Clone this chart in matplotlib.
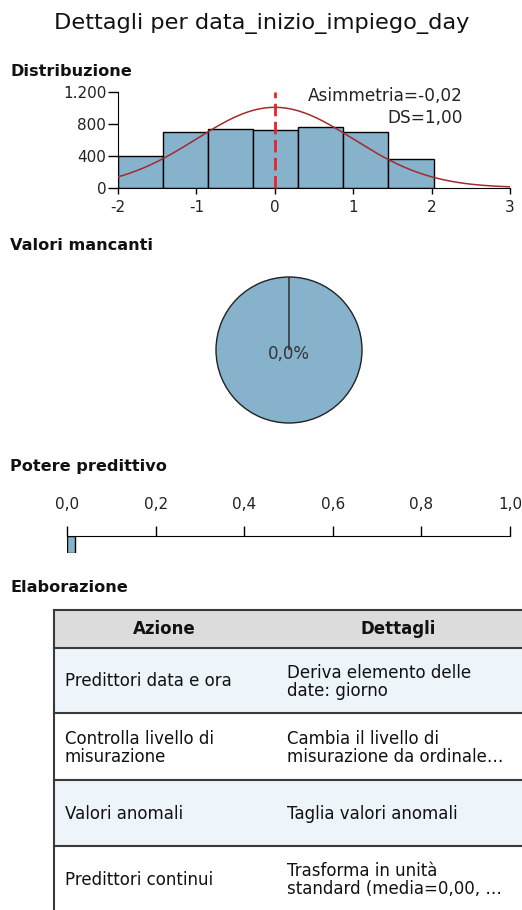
import numpy as np
import matplotlib
matplotlib.use("Agg")
import matplotlib.pyplot as plt
from matplotlib.patches import Rectangle

plt.rcParams["font.family"] = ["DejaVu Sans"]

# ---- data ---------------------------------------------------------------
bin_edges = [-2.0, -1.425, -0.85, -0.275, 0.30, 0.875, 1.45, 2.025]
counts = [403, 705, 739, 730, 760, 705, 365]
mean_val = 0.0
sd_val = 1.00
skew_val = -0.02
missing_pct = 0.0
predictive_power = 0.018

hist_xticks = [-2, -1, 0, 1, 2, 3]
hist_yticks = [0, 400, 800, 1200]
hist_yticklabels = ["0", "400", "800", "1.200"]
pp_ticks = [0.0, 0.2, 0.4, 0.6, 0.8, 1.0]

table_header = ["Azione", "Dettagli"]
table_actions = ["Predittori data e ora", "Controlla livello di\nmisurazione",
                 "Valori anomali", "Predittori continui"]
table_details = ["Deriva elemento delle\ndate: giorno",
                 "Cambia il livello di\nmisurazione da ordinale…",
                 "Taglia valori anomali",
                 "Trasforma in unità\nstandard (media=0,00, …"]

BLUE = "#86b2cc"
W, H = 522, 910


def px_axes(fig, x0, y0, x1, y1):
    # axes placed by pixel box (top-left origin)
    return fig.add_axes([x0 / W, 1 - y1 / H, (x1 - x0) / W, (y1 - y0) / H])


fig = plt.figure(figsize=(W / 100, H / 100), dpi=100)

# background axes in pixel units for text and table
bg = fig.add_axes([0, 0, 1, 1])
bg.set_xlim(0, W)
bg.set_ylim(H, 0)
bg.axis("off")

bg.text(262, 23, "Dettagli per data_inizio_impiego_day", ha="center", va="center",
        fontsize=16.2, color="#111111")
for y, lab in [(71, "Distribuzione"), (245, "Valori mancanti"),
               (467, "Potere predittivo"), (588, "Elaborazione")]:
    bg.text(10, y, lab, ha="left", va="center", fontsize=11.6, fontweight="bold",
            color="#111111")

# ---- histogram ----------------------------------------------------------
ax = px_axes(fig, 118, 92.3, 510, 187.7)
edges = np.array(bin_edges)
ax.bar(edges[:-1], counts, width=np.diff(edges), align="edge", color=BLUE,
       edgecolor="black", linewidth=1.0, zorder=2)
xs = np.linspace(-2, 3, 300)
bw = np.mean(np.diff(edges))
pdf = sum(counts) * bw / (sd_val * np.sqrt(2 * np.pi)) * np.exp(-0.5 * ((xs - mean_val) / sd_val) ** 2)
ax.plot(xs, pdf, color="#a52a2a", lw=1.1, zorder=3)
ax.plot([mean_val, mean_val], [0, 1200], color="#e8222a", lw=2, ls=(0, (4.5, 2)),
        zorder=4, clip_on=False)
ax.set_xlim(-2, 3)
ax.set_ylim(0, 1200)
for s in ["top", "right"]:
    ax.spines[s].set_visible(False)
ax.set_xticks(hist_xticks)
ax.set_xticklabels([str(t) for t in hist_xticks])
ax.set_yticks(hist_yticks)
ax.set_yticklabels(hist_yticklabels)
ax.tick_params(axis="x", labelsize=11, length=4, pad=5, width=1, labelcolor="#222222")
ax.tick_params(axis="y", labelsize=11, length=7, pad=1.5, width=1, labelcolor="#222222")
ax.patch.set_alpha(0)
bg.text(463, 96, f"Asimmetria={skew_val:.2f}".replace(".", ","), ha="right",
        va="center", fontsize=12.2, color="#222222")
bg.text(463, 118, f"DS={sd_val:.2f}".replace(".", ","), ha="right", va="center",
        fontsize=12.2, color="#222222")

# ---- pie ----------------------------------------------------------------
pax = px_axes(fig, 289 - 74, 350 - 74, 289 + 74, 350 + 74)
pax.pie([100 - missing_pct, missing_pct], colors=[BLUE, BLUE], startangle=90,
        radius=73 / 74, wedgeprops=dict(edgecolor="#222222", linewidth=1.0))
pax.set_xlim(-1, 1)
pax.set_ylim(-1, 1)
pax.text(0, -0.05, f"{missing_pct:.1f}%".replace(".", ","), ha="center",
         va="center", fontsize=12, color="#333333")

# ---- predictive power ---------------------------------------------------
qax = px_axes(fig, 67, 536, 510, 553)
qax.barh([0], [predictive_power], height=1, align="edge", color=BLUE,
         edgecolor="black", linewidth=1.0)
qax.set_xlim(0, 1)
qax.set_ylim(1, 0)
qax.xaxis.tick_top()
qax.set_xticks(pp_ticks)
qax.set_xticklabels([f"{t:.1f}".replace(".", ",") for t in pp_ticks])
qax.set_yticks([])
for s in ["bottom", "left", "right"]:
    qax.spines[s].set_visible(False)
qax.tick_params(labelsize=11, length=7, pad=10, width=1, labelcolor="#222222")
qax.patch.set_alpha(0)

# ---- table --------------------------------------------------------------
row_bounds = [610, 648, 713, 780, 846, 912]
tx0, tx1 = 54, 522
col1_center, col2_center = 164, 398
bg.add_patch(Rectangle((tx0, row_bounds[0]), tx1 - tx0, row_bounds[1] - row_bounds[0],
                       facecolor="#dcdcdc", edgecolor="none"))
for i in range(len(table_actions)):
    top, bot = row_bounds[i + 1], row_bounds[i + 2]
    fc = "#edf4fa" if i % 2 == 0 else "white"
    bg.add_patch(Rectangle((tx0, top), tx1 - tx0, bot - top, facecolor=fc,
                           edgecolor="none"))
    mid = (top + bot) / 2 + 1
    bg.text(65, mid, table_actions[i], ha="left", va="center", fontsize=12,
            linespacing=1.0, color="#111111")
    bg.text(287, mid, table_details[i], ha="left", va="center", fontsize=12,
            linespacing=1.0, color="#111111")
for y in row_bounds[:-1]:
    bg.plot([tx0, tx1], [y, y], color="#3a3a3a", lw=1.5)
bg.plot([tx0, tx0], [row_bounds[0], H], color="#3a3a3a", lw=1.5)
hmid = (row_bounds[0] + row_bounds[1]) / 2
bg.text(col1_center, hmid, table_header[0], ha="center", va="center", fontsize=12,
        fontweight="bold", color="#111111")
bg.text(col2_center, hmid, table_header[1], ha="center", va="center", fontsize=12,
        fontweight="bold", color="#111111")

fig.savefig("out.png", dpi=100)
